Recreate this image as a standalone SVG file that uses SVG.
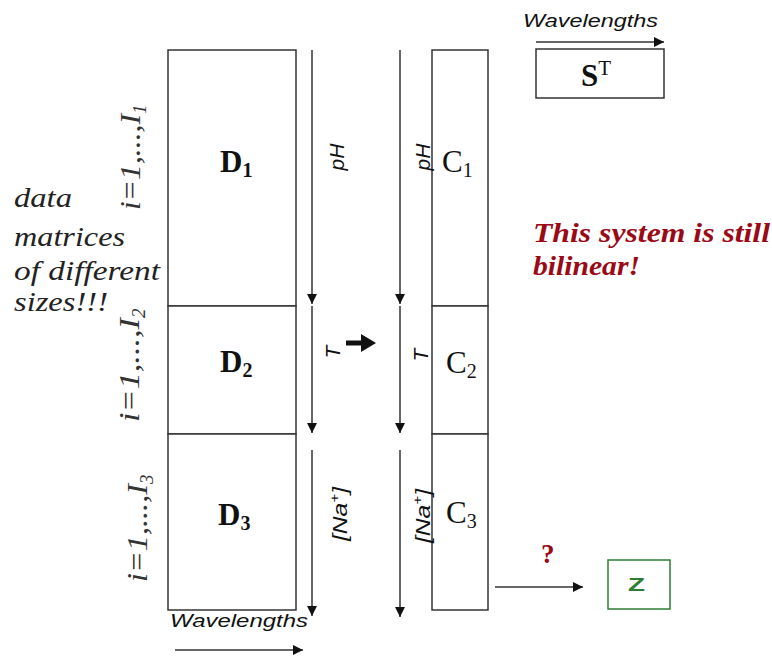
<svg xmlns="http://www.w3.org/2000/svg" width="772" height="656" viewBox="0 0 772 656">
<style>
.box{fill:#fff;stroke:#333;stroke-width:1.5}
.ln{stroke:#333;stroke-width:1.5;fill:none;marker-end:url(#ah)}
.big{font-family:"Liberation Serif",serif;font-size:31px;fill:#111}
.bold{font-weight:bold}
.lab{font-family:"Liberation Sans",Arial,sans-serif;font-style:italic;font-size:21px;fill:#111}
.idx{font-family:"Liberation Serif",serif;font-style:italic;font-size:29px;fill:#333}
.note{font-family:"Liberation Serif",serif;font-style:italic;font-size:27px;fill:#222}
.red{font-family:"Liberation Serif",serif;font-style:italic;font-weight:bold;font-size:27px;fill:#9a0a16}
</style>
<defs>
<marker id="ah" markerUnits="userSpaceOnUse" markerWidth="10" markerHeight="10" refX="10" refY="5" orient="auto">
<path d="M0,0 L10,5 L0,10 z" fill="#111"/>
</marker>
</defs>
<rect width="772" height="656" fill="#fff"/>

<g id="D1"><rect class="box" x="168" y="50" width="128" height="256"/><text class="big bold" x="220" y="172">D<tspan style="font-size:20px" dy="5">1</tspan></text></g>
<g id="D2"><rect class="box" x="168" y="306" width="128" height="128"/><text class="big bold" x="220" y="372">D<tspan style="font-size:20px" dy="5">2</tspan></text></g>
<g id="D3"><rect class="box" x="168" y="434" width="128" height="176"/><text class="big bold" x="218" y="525">D<tspan style="font-size:20px" dy="5">3</tspan></text></g>

<g id="C1"><rect class="box" x="432" y="50" width="56" height="256"/><text class="big" x="442" y="172">C<tspan style="font-size:20px" dy="5">1</tspan></text></g>
<g id="C2"><rect class="box" x="432" y="306" width="56" height="128"/><text class="big" x="446" y="373">C<tspan style="font-size:20px" dy="5">2</tspan></text></g>
<g id="C3"><rect class="box" x="432" y="434" width="56" height="176"/><text class="big" x="446" y="523">C<tspan style="font-size:20px" dy="5">3</tspan></text></g>

<g id="ST"><rect class="box" x="536" y="49" width="128" height="49"/><text class="big bold" x="581" y="86">S<tspan style="font-weight:normal;font-size:21px" dy="-11">T</tspan></text></g>

<g id="Z"><rect x="608" y="560" width="62" height="49" fill="#fff" stroke="#2e7d32" stroke-width="1.5"/><text x="628" y="591" style="font-family:'Liberation Sans',Arial,sans-serif;font-weight:bold;font-size:18px;fill:#2e7d32" textLength="17" lengthAdjust="spacingAndGlyphs">Z</text></g>

<g id="connectors">
<line class="ln" x1="312" y1="50" x2="312" y2="304"/>
<line class="ln" x1="312" y1="306" x2="312" y2="433"/>
<line class="ln" x1="312" y1="450" x2="312" y2="616"/>
<line class="ln" x1="400" y1="50" x2="400" y2="304"/>
<line class="ln" x1="400" y1="306" x2="400" y2="433"/>
<line class="ln" x1="400" y1="450" x2="400" y2="617"/>
<line class="ln" x1="536" y1="42" x2="664" y2="42"/>
<line class="ln" x1="175" y1="650" x2="303" y2="650"/>
<line class="ln" x1="495" y1="587" x2="583" y2="587"/>
<polygon points="346,340.5 361,340.5 361,334 376,343 361,352 361,345.5 346,345.5" fill="#111"/>
</g>

<g id="labels">
<text class="lab" style="font-size:19px" x="523" y="27" textLength="135" lengthAdjust="spacingAndGlyphs">Wavelengths</text>
<text class="lab" style="font-size:19px" x="170" y="627" textLength="138" lengthAdjust="spacingAndGlyphs">Wavelengths</text>
<text class="lab" transform="translate(344,157) rotate(-90)" text-anchor="middle">pH</text>
<text class="lab" transform="translate(430,157) rotate(-90)" text-anchor="middle">pH</text>
<text class="lab" transform="translate(340,352) rotate(-90)" text-anchor="middle">T</text>
<text class="lab" transform="translate(428,355) rotate(-90)" text-anchor="middle">T</text>
<text class="lab" transform="translate(347,541) rotate(-90)" textLength="54" lengthAdjust="spacingAndGlyphs">[Na<tspan style="font-size:13px" dy="-8">+</tspan><tspan dy="8">]</tspan></text>
<text class="lab" transform="translate(430,543) rotate(-90)" textLength="54" lengthAdjust="spacingAndGlyphs">[Na<tspan style="font-size:13px" dy="-8">+</tspan><tspan dy="8">]</tspan></text>
<text class="idx" transform="translate(140,210) rotate(-90)" textLength="96" lengthAdjust="spacingAndGlyphs">i=1,...,I</text>
<text class="idx" style="font-size:19px" transform="translate(140,210) rotate(-90)" x="96" y="6">1</text>
<text class="idx" transform="translate(139,422) rotate(-90)" textLength="104" lengthAdjust="spacingAndGlyphs">i=1,...,I</text>
<text class="idx" style="font-size:19px" transform="translate(139,422) rotate(-90)" x="104" y="6">2</text>
<text class="idx" transform="translate(147,582) rotate(-90)" textLength="98" lengthAdjust="spacingAndGlyphs">i=1,...,I</text>
<text class="idx" style="font-size:19px" transform="translate(147,582) rotate(-90)" x="98" y="6">3</text>
<text class="note" x="14" y="207" textLength="58" lengthAdjust="spacingAndGlyphs">data</text>
<text class="note" x="14" y="246" textLength="111" lengthAdjust="spacingAndGlyphs">matrices</text>
<text class="note" x="14" y="280" textLength="146" lengthAdjust="spacingAndGlyphs">of different</text>
<text class="note" x="14" y="311" textLength="94" lengthAdjust="spacingAndGlyphs">sizes!!!</text>
<text class="red" x="533" y="242" textLength="237" lengthAdjust="spacingAndGlyphs">This system is still</text>
<text class="red" x="533" y="275" textLength="107" lengthAdjust="spacingAndGlyphs">bilinear!</text>
<text class="red" style="font-style:normal;font-size:27px" x="541" y="563">?</text>
</g>
</svg>
